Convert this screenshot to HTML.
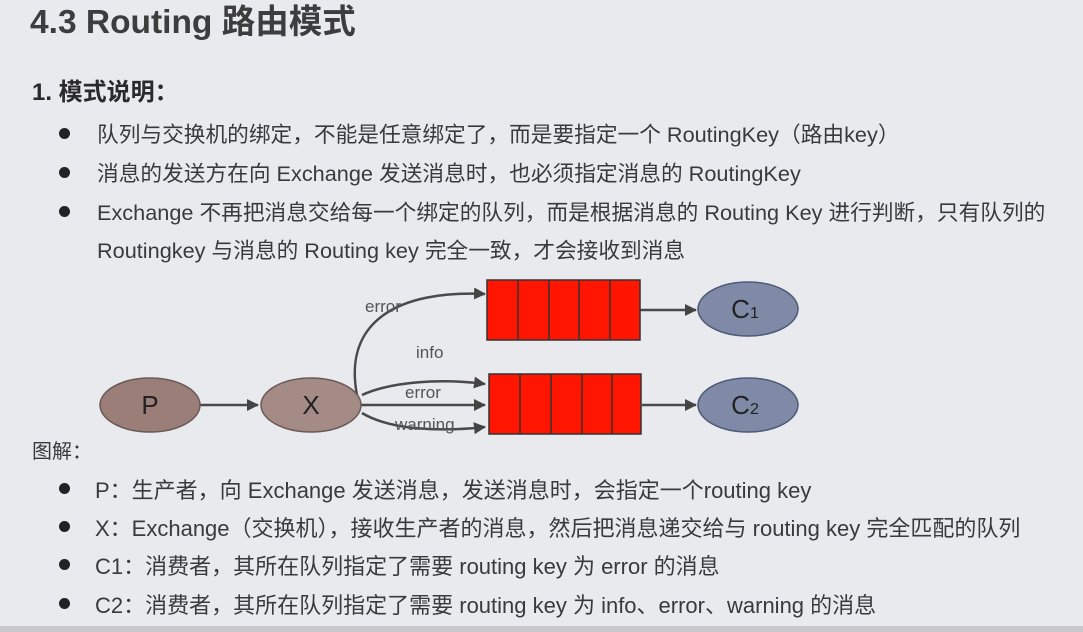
<!DOCTYPE html>
<html><head><meta charset="utf-8"><style>
body{margin:0;width:1083px;height:632px;background:#e9eaee;overflow:hidden;position:relative;font-family:"Liberation Sans","Noto Sans CJK SC",sans-serif;color:#333}
.t{position:absolute;white-space:nowrap}
.b{position:absolute;width:11px;height:11px;border-radius:50%;background:#222}
.s{font-size:21.7px;color:#3a3a3a}
.s2{font-size:22px}
</style></head><body>
<div class="t" style="left:30px;top:-6px;font-size:33.5px;font-weight:bold;color:#3d3d3d">4.3 Routing 路由模式</div>
<div class="t" style="left:32px;top:72px;font-size:24px;font-weight:bold;color:#2a2a2a">1. 模式说明：</div>
<div class="b" style="left:59px;top:128px"></div><div class="t s" style="left:97px;top:118px">队列与交换机的绑定，不能是任意绑定了，而是要指定一个 RoutingKey（路由key）</div>
<div class="b" style="left:59px;top:167px"></div><div class="t s" style="left:97px;top:157px">消息的发送方在向 Exchange 发送消息时，也必须指定消息的 RoutingKey</div>
<div class="b" style="left:59px;top:206px"></div><div class="t s" style="left:97px;top:196px">Exchange 不再把消息交给每一个绑定的队列，而是根据消息的 Routing Key 进行判断，只有队列的</div>
<div class="t s" style="left:97px;top:234px">Routingkey 与消息的 Routing key 完全一致，才会接收到消息</div>
<svg style="position:absolute;left:0;top:0" width="1083" height="632">
<defs><marker id="a" markerWidth="12" markerHeight="12" refX="11" refY="6" orient="auto" markerUnits="userSpaceOnUse"><path d="M0,0 L12,6 L0,12z" fill="#444"/></marker></defs>
<g stroke="#4a4a4a" stroke-width="2.5" fill="none">
<path d="M200,405 H258" marker-end="url(#a)"/>
<path d="M360,405 H485" marker-end="url(#a)"/>
<path d="M358,400 C340,320 400,290 485,294" marker-end="url(#a)"/>
<path d="M362,395 C390,382 440,378 485,384" marker-end="url(#a)"/>
<path d="M362,413 C390,430 440,432 485,427" marker-end="url(#a)"/>
<path d="M640,310 H696" marker-end="url(#a)"/>
<path d="M642,405 H696" marker-end="url(#a)"/>
</g>
<g stroke="#333" stroke-width="1.5" fill="#ff1500">
<rect x="487" y="280" width="153" height="60"/><rect x="489" y="374" width="152" height="60"/>
</g>
<g stroke="#333" stroke-width="1.5">
<path d="M518,280V340M549,280V340M579,280V340M610,280V340M520,374V434M551,374V434M582,374V434M612,374V434"/></g>
<ellipse cx="150" cy="405" rx="50" ry="27" fill="#9c7e78" stroke="#6a5a58" stroke-width="1.5"/>
<ellipse cx="311" cy="405" rx="50" ry="27" fill="#a58b86" stroke="#6a5a58" stroke-width="1.5"/>
<ellipse cx="748" cy="309" rx="50" ry="27" fill="#7e8aa6" stroke="#4e5a78" stroke-width="1.5"/>
<ellipse cx="748" cy="405" rx="50" ry="27" fill="#7e8aa6" stroke="#4e5a78" stroke-width="1.5"/>
<g font-family="Liberation Sans,sans-serif" fill="#222" font-size="26" text-anchor="middle">
<text x="150" y="414">P</text><text x="311" y="414">X</text>
<text x="745" y="318">C<tspan font-size="16">1</tspan></text><text x="745" y="414">C<tspan font-size="16">2</tspan></text></g>
<g font-family="Liberation Sans,sans-serif" fill="#555" font-size="17">
<text x="365" y="312">error</text><text x="416" y="358">info</text><text x="405" y="398">error</text><text x="395" y="430">warning</text></g>
</svg>
<div class="t s" style="left:32px;top:435px;font-size:20px">图解：</div>
<div class="b" style="left:59px;top:483px"></div><div class="t s s2" style="left:95px;top:473px">P：生产者，向 Exchange 发送消息，发送消息时，会指定一个routing key</div>
<div class="b" style="left:59px;top:521px"></div><div class="t s s2" style="left:95px;top:511px">X：Exchange（交换机），接收生产者的消息，然后把消息递交给与 routing key 完全匹配的队列</div>
<div class="b" style="left:59px;top:559px"></div><div class="t s s2" style="left:95px;top:549px">C1：消费者，其所在队列指定了需要 routing key 为 error 的消息</div>
<div class="b" style="left:59px;top:598px"></div><div class="t s s2" style="left:95px;top:588px">C2：消费者，其所在队列指定了需要 routing key 为 info、error、warning 的消息</div>
<div style="position:absolute;left:0;top:626px;width:1083px;height:6px;background:#c8c8cc"></div>
</body></html>
